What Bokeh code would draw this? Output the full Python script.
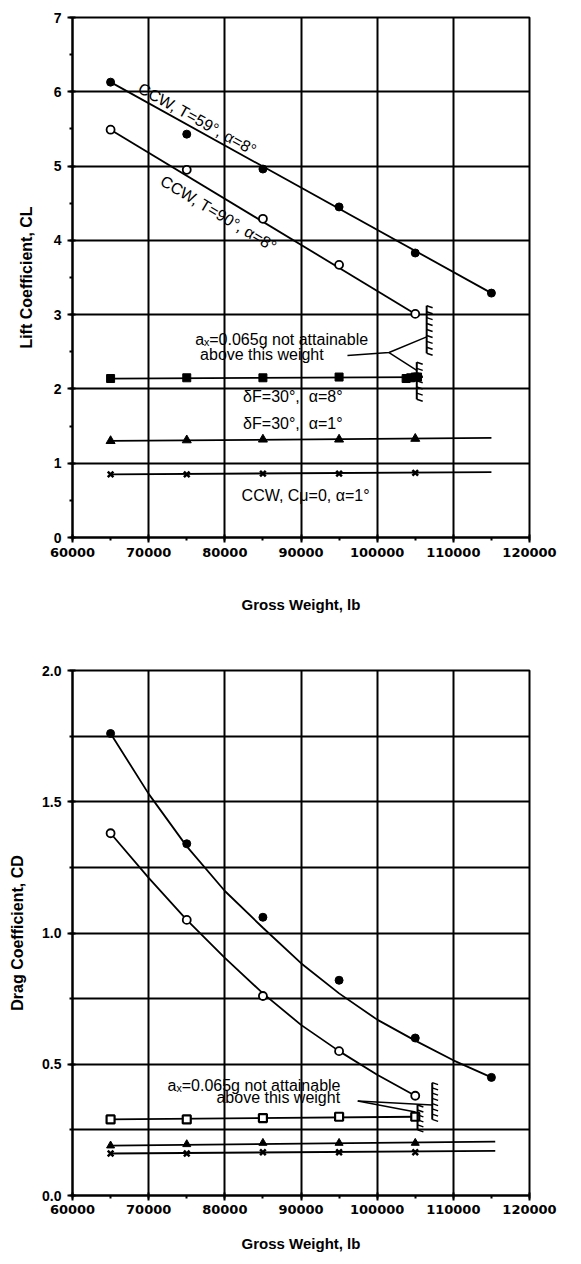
import numpy as np
from bokeh.plotting import figure
from bokeh.layouts import column
from bokeh.models import SingleIntervalTicker, NumeralTickFormatter, Range1d
from bokeh.core.properties import value
from bokeh.embed import file_html
from bokeh.resources import INLINE

# ---------------- data ----------------
gross_weight = [65000, 75000, 85000, 95000, 105000]
gross_weight_ext = [65000, 75000, 85000, 95000, 105000, 115000]

# Lift coefficient (top chart)
cl_ccw_t59 = [6.13, 5.43, 4.96, 4.45, 3.83, 3.29]
cl_ccw_t59_line_x = [65000, 115000]
cl_ccw_t59_line_y = [6.13, 3.29]
cl_ccw_t90 = [5.49, 4.95, 4.29, 3.67, 3.01]
cl_ccw_t90_line_x = [65000, 105000]
cl_ccw_t90_line_y = [5.49, 3.01]
cl_flap_a8 = [2.14, 2.15, 2.15, 2.16, 2.16]
cl_flap_a8_extra_x = [103800, 104400, 105300]
cl_flap_a8_extra_y = [2.14, 2.15, 2.16]
cl_flap_a8_line_x = [65000, 106000]
cl_flap_a8_line_y = [2.14, 2.16]
cl_flap_a1 = [1.30, 1.31, 1.32, 1.32, 1.33]
cl_flap_a1_line_x = [65000, 115000]
cl_flap_a1_line_y = [1.30, 1.34]
cl_cmu0 = [0.85, 0.85, 0.86, 0.86, 0.87]
cl_cmu0_line_x = [65000, 115000]
cl_cmu0_line_y = [0.85, 0.88]

cl_hatch_x = [106500, 105200]
cl_hatch_y0 = [2.48, 1.86]
cl_hatch_y1 = [3.12, 2.36]
cl_pointer_a_x = [96100, 101560, 106500]
cl_pointer_a_y = [2.45, 2.49, 2.70]
cl_pointer_b_x = [101560, 105200]
cl_pointer_b_y = [2.49, 2.25]

# Drag coefficient (bottom chart)
cd_ccw_t59 = [1.76, 1.34, 1.06, 0.82, 0.60, 0.45]
cd_ccw_t59_curve_x = [65000, 70000, 75000, 80000, 85000, 90000, 95000, 100000, 105000, 110000, 115000]
cd_ccw_t59_curve_y = [1.76, 1.53, 1.33, 1.16, 1.02, 0.885, 0.77, 0.67, 0.59, 0.515, 0.45]
cd_ccw_t90 = [1.38, 1.05, 0.76, 0.55, 0.38]
cd_ccw_t90_curve_x = [65000, 70000, 75000, 80000, 85000, 90000, 95000, 100000, 105000]
cd_ccw_t90_curve_y = [1.38, 1.21, 1.05, 0.905, 0.77, 0.65, 0.55, 0.46, 0.38]
cd_flap_a8 = [0.29, 0.29, 0.295, 0.30, 0.30]
cd_flap_a8_line_x = [65000, 105000]
cd_flap_a8_line_y = [0.29, 0.30]
cd_flap_a1 = [0.19, 0.195, 0.20, 0.20, 0.20]
cd_flap_a1_line_x = [65000, 115500]
cd_flap_a1_line_y = [0.19, 0.205]
cd_cmu0 = [0.16, 0.16, 0.165, 0.165, 0.165]
cd_cmu0_line_x = [65000, 115500]
cd_cmu0_line_y = [0.16, 0.17]

cd_hatch_x = [107230, 105300]
cd_hatch_y0 = [0.29, 0.25]
cd_hatch_y1 = [0.43, 0.345]
cd_pointer_a_x = [97450, 107230]
cd_pointer_a_y = [0.36, 0.345]
cd_pointer_b_x = [97450, 105040]
cd_pointer_b_y = [0.36, 0.318]

FONT = "Liberation Sans"


def style(p, y_interval, y_minor, y_grid_interval, y_fmt):
    p.x_range = Range1d(60000, 120000)
    p.xaxis.ticker = SingleIntervalTicker(interval=10000, num_minor_ticks=2)
    p.xgrid.ticker = SingleIntervalTicker(interval=10000)
    p.yaxis.ticker = SingleIntervalTicker(interval=y_interval, num_minor_ticks=y_minor)
    p.ygrid.ticker = SingleIntervalTicker(interval=y_grid_interval)
    p.xaxis.formatter = NumeralTickFormatter(format="0")
    p.yaxis.formatter = NumeralTickFormatter(format=y_fmt)
    for g in (p.xgrid, p.ygrid):
        g.grid_line_color = "black"
        g.grid_line_width = 2
    p.outline_line_color = "black"
    p.outline_line_width = 2
    p.outline_line_alpha = 1
    for ax in (p.xaxis, p.yaxis):
        ax.axis_line_width = 2
        ax.axis_line_color = "black"
        ax.major_tick_line_width = 2
        ax.major_tick_line_color = "black"
        ax.major_tick_out = 5
        ax.major_tick_in = 3
        ax.minor_tick_line_width = 2
        ax.minor_tick_line_color = "black"
        ax.minor_tick_out = 3
        ax.minor_tick_in = 0
        ax.axis_label_text_font = FONT
        ax.axis_label_text_font_style = "bold"
        ax.axis_label_text_color = "black"
        ax.major_label_text_color = "black"
        ax.major_label_text_font_style = "bold"
    p.xaxis.major_label_text_font = "DejaVu Sans"
    p.xaxis.major_label_text_font_size = "13px"
    p.yaxis.major_label_text_font = FONT
    p.yaxis.major_label_text_font_size = "14px"
    p.xaxis.axis_label_text_font_size = "15px"
    p.yaxis.axis_label_text_font_size = "16px"
    p.background_fill_color = "white"
    p.border_fill_color = "white"


def hatch(p, x, y0, y1, dx, dy, n):
    p.line([x, x], [y0, y1], line_color="black", line_width=2)
    ys = np.linspace(y0, y1, n)
    p.segment(x0=[x] * n, y0=ys, x1=[x + dx] * n, y1=ys - dy, line_color="black", line_width=1.5)


def txt(p, x, y, s, size="16px", angle=0, align="left", baseline="middle"):
    p.text(x=[x], y=[y], text=[s], text_font=value(FONT), text_font_size=size,
           text_color="black", angle=angle, angle_units="deg",
           text_align=align, text_baseline=baseline)


# ---------------- top chart: lift coefficient ----------------
p1 = figure(width=565, height=615, output_backend="svg", toolbar_location=None,
            min_border_left=67, min_border_right=36, min_border_top=17, min_border_bottom=75,
            x_axis_label="Gross Weight, lb", y_axis_label="Lift Coefficient, CL")
p1.y_range = Range1d(0, 7)
style(p1, 1, 2, 1, "0")
p1.xaxis.major_label_standoff = 5
p1.xaxis.axis_label_standoff = 36
p1.yaxis.major_label_standoff = 6
p1.yaxis.axis_label_standoff = 16

LW = 1.8
MS = 8
p1.line(cl_ccw_t59_line_x, cl_ccw_t59_line_y, line_color="black", line_width=LW)
p1.scatter(gross_weight_ext, cl_ccw_t59, marker="circle", size=MS, fill_color="black", line_color="black")
p1.line(cl_ccw_t90_line_x, cl_ccw_t90_line_y, line_color="black", line_width=LW)
p1.scatter(gross_weight, cl_ccw_t90, marker="circle", size=MS, fill_color="white", line_color="black", line_width=1.8)
p1.line(cl_flap_a8_line_x, cl_flap_a8_line_y, line_color="black", line_width=LW)
p1.scatter(gross_weight, cl_flap_a8, marker="square", size=MS, fill_color="black", line_color="black")
p1.scatter(cl_flap_a8_extra_x, cl_flap_a8_extra_y, marker="square", size=MS, fill_color="black", line_color="black")
p1.line(cl_flap_a1_line_x, cl_flap_a1_line_y, line_color="black", line_width=LW)
p1.scatter(gross_weight, cl_flap_a1, marker="triangle", size=MS + 1, fill_color="black", line_color="black")
p1.line(cl_cmu0_line_x, cl_cmu0_line_y, line_color="black", line_width=LW)
p1.scatter(gross_weight, cl_cmu0, marker="x", size=MS, line_color="black", line_width=2.5)

for hx, ha, hb, n in zip(cl_hatch_x, cl_hatch_y0, cl_hatch_y1, [9, 7]):
    hatch(p1, hx, ha, hb, 780, 0.027, n)
p1.line(cl_pointer_a_x, cl_pointer_a_y, line_color="black", line_width=1.5)
p1.line(cl_pointer_b_x, cl_pointer_b_y, line_color="black", line_width=1.5)

x_t1 = 68800
y_t1 = float(np.interp(x_t1, cl_ccw_t59_line_x, cl_ccw_t59_line_y)) + 0.15
txt(p1, x_t1, y_t1, "CCW, T=59°, α=8°", angle=-29, baseline="alphabetic")
x_t2 = 72300
y_t2 = float(np.interp(x_t2, cl_ccw_t90_line_x, cl_ccw_t90_line_y)) - 0.12
txt(p1, x_t2, y_t2, "CCW, T=90°, α=8°", angle=-31, baseline="top")

NB = "\u00a0"
txt(p1, 76100, 2.66, "aₓ=0.065g not attainable")
txt(p1, 76750, 2.47, "above this weight")
txt(p1, 82400, 1.90, "δF=30°," + NB + NB + "α=8°")
txt(p1, 82400, 1.54, "δF=30°," + NB + NB + "α=1°")
txt(p1, 82200, 0.57, "CCW, Cμ=0, α=1°")

# ---------------- bottom chart: drag coefficient ----------------
p2 = figure(width=565, height=641, output_backend="svg", toolbar_location=None,
            min_border_left=72, min_border_right=27, min_border_top=55, min_border_bottom=61,
            x_axis_label="Gross Weight, lb", y_axis_label="Drag Coefficient, CD")
p2.y_range = Range1d(0, 2)
style(p2, 0.5, 2, 0.25, "0.0")
p2.xaxis.major_label_standoff = 4
p2.xaxis.axis_label_standoff = 18
p2.yaxis.major_label_standoff = 6
p2.yaxis.axis_label_standoff = 13

p2.line(cd_ccw_t59_curve_x, cd_ccw_t59_curve_y, line_color="black", line_width=LW)
p2.scatter(gross_weight_ext, cd_ccw_t59, marker="circle", size=MS, fill_color="black", line_color="black")
p2.line(cd_ccw_t90_curve_x, cd_ccw_t90_curve_y, line_color="black", line_width=LW)
p2.scatter(gross_weight, cd_ccw_t90, marker="circle", size=MS, fill_color="white", line_color="black", line_width=1.8)
p2.line(cd_flap_a8_line_x, cd_flap_a8_line_y, line_color="black", line_width=LW)
p2.scatter(gross_weight, cd_flap_a8, marker="square", size=MS, fill_color="white", line_color="black", line_width=2.2)
p2.line(cd_flap_a1_line_x, cd_flap_a1_line_y, line_color="black", line_width=LW)
p2.scatter(gross_weight, cd_flap_a1, marker="triangle", size=MS, fill_color="black", line_color="black")
p2.line(cd_cmu0_line_x, cd_cmu0_line_y, line_color="black", line_width=LW)
p2.scatter(gross_weight, cd_cmu0, marker="x", size=MS, line_color="black", line_width=2.5)

for hx, ha, hb, n in zip(cd_hatch_x, cd_hatch_y0, cd_hatch_y1, [8, 6]):
    hatch(p2, hx, ha, hb, 770, 0.0076, n)
p2.line(cd_pointer_a_x, cd_pointer_a_y, line_color="black", line_width=1.5)
p2.line(cd_pointer_b_x, cd_pointer_b_y, line_color="black", line_width=1.5)

txt(p2, 72480, 0.42, "aₓ=0.065g not attainable")
txt(p2, 78900, 0.372, "above this weight")

layout = column(p1, p2, spacing=0)
open("out.html", "w").write(file_html(layout, INLINE))
